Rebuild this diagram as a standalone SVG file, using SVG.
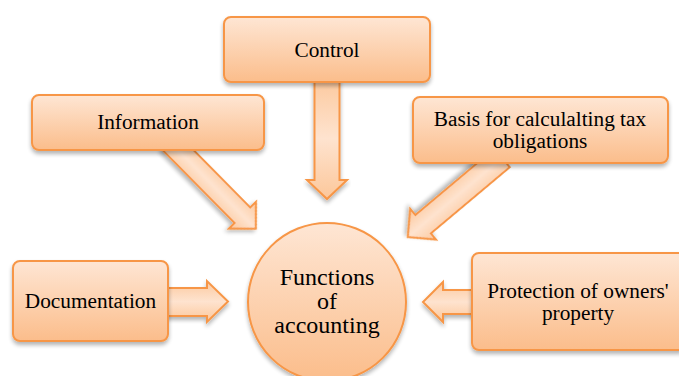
<svg xmlns="http://www.w3.org/2000/svg" width="679" height="376" viewBox="0 0 679 376">
<defs>
<linearGradient id="g" x1="0" y1="0" x2="0" y2="1">
<stop offset="0" stop-color="#fee6d4"/>
<stop offset="1" stop-color="#fbbd8b"/>
</linearGradient>
<linearGradient id="ga" x1="0" y1="0" x2="0" y2="1">
<stop offset="0" stop-color="#fcc99e"/>
<stop offset="0.5" stop-color="#fee3cf"/>
<stop offset="1" stop-color="#fcc79a"/>
</linearGradient>
<filter id="sh" x="-10%" y="-10%" width="120%" height="130%">
<feGaussianBlur in="SourceAlpha" stdDeviation="2"/>
<feOffset dx="0" dy="2.5"/>
<feComponentTransfer><feFuncA type="linear" slope="0.3"/></feComponentTransfer>
<feMerge><feMergeNode/><feMergeNode in="SourceGraphic"/></feMerge>
</filter>
</defs>
<style>
.box{fill:url(#g);stroke:#f79646;stroke-width:2;filter:url(#sh)}
.arr{fill:url(#ga);stroke:#f79646;stroke-width:2;stroke-linejoin:miter;filter:url(#sh)}
text{font-family:'Liberation Serif','Times New Roman',serif !important;fill:#000;text-anchor:middle}
.t{font-size:21.3px}
.c{font-size:24px}
</style>
<g id="connectors">
<path class="arr" d="M0,-11 L103,-11 L103,-19 L122,0 L103,19 L103,11 L0,11 Z" transform="translate(170,142) rotate(45.3)"/>
<path class="arr" d="M0,-12 L103,-12 L103,-20 L123,0 L103,20 L103,12 L0,12 Z" transform="translate(502,158) rotate(140)"/>
<polygon class="arr" points="314.5,78 339.5,78 339.5,180 347,180 327,199 307,180 314.5,180"/>
<polygon class="arr" points="164,288 207,288 207,281 228,301.5 207,322 207,316 164,316"/>
<polygon class="arr" points="476,290 443,290 443,282 423,302 443,322 443,314 476,314"/>
</g>
<g id="node-control" font-family="Times New Roman">
<rect class="box" x="224" y="17" width="206" height="65" rx="7"/>
<text class="t" x="327" y="57">Control</text>
</g>
<g id="node-information" font-family="Times New Roman">
<rect class="box" x="32" y="95" width="232" height="55" rx="7"/>
<text class="t" x="148" y="129">Information</text>
</g>
<g id="node-basis" font-family="Times New Roman">
<rect class="box" x="413" y="97" width="255" height="66" rx="7"/>
<text class="t" x="540" y="126">Basis for calculalting tax</text>
<text class="t" x="540" y="148">obligations</text>
</g>
<g id="node-documentation" font-family="Times New Roman">
<rect class="box" x="13" y="261" width="155" height="80" rx="7"/>
<text class="t" x="90.5" y="308">Documentation</text>
</g>
<g id="node-protection" font-family="Times New Roman">
<rect class="box" x="472" y="253" width="214" height="97" rx="7"/>
<text class="t" x="578" y="298">Protection of owners'</text>
<text class="t" x="578" y="320">property</text>
</g>
<g id="node-functions" font-family="Times New Roman">
<circle class="box" cx="327" cy="302" r="79"/>
<text class="c" x="327" y="285">Functions</text>
<text class="c" x="327" y="309">of</text>
<text class="c" x="327" y="333">accounting</text>
</g>
</svg>
